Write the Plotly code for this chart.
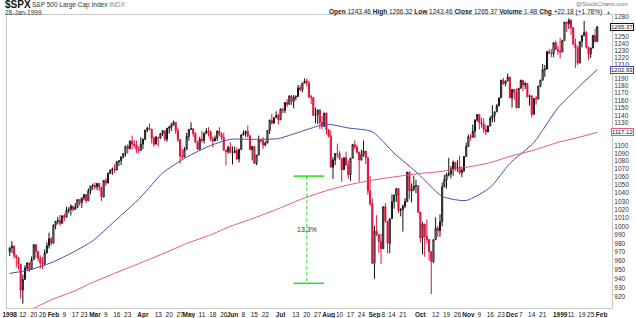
import math
import pandas as pd
import plotly.graph_objects as go

# ---------------- data ----------------
holidays = ["1998-01-01", "1998-01-19", "1998-02-16", "1998-04-10", "1998-05-25", "1998-07-03",
            "1998-09-07", "1998-11-26", "1998-12-25", "1999-01-01", "1999-01-18"]
trade_days = [d.strftime("%Y-%m-%d") for d in pd.bdate_range("1998-01-02", "1999-01-28")
              if d.strftime("%Y-%m-%d") not in holidays]

prev_close_1997 = 970.43

closes = [
    975.04, 977.07, 966.58, 964.00, 956.05, 927.69, 939.21, 952.12, 957.94, 950.73, 961.51, 978.60, 970.81, 963.04, 957.59, 956.95, 969.02, 977.46, 985.49, 980.28,
    1001.27, 1006.00, 1006.90, 1003.54, 1012.46, 1010.74, 1019.01, 1020.01, 1024.14, 1020.09, 1022.76, 1032.08, 1028.28, 1034.21, 1038.14, 1030.56, 1042.90, 1048.67, 1049.34,
    1047.70, 1052.02, 1047.33, 1035.05, 1055.69, 1052.31, 1064.25, 1068.47, 1069.92, 1068.61, 1079.27, 1080.45, 1085.52, 1089.74, 1099.16, 1095.55, 1105.65, 1101.93, 1100.80, 1095.44, 1093.60, 1101.75,
    1108.15, 1120.01, 1122.70, 1121.38, 1109.55, 1101.65, 1110.67, 1109.69, 1115.75, 1119.32, 1108.17, 1122.72, 1123.65, 1126.67, 1130.54, 1119.58, 1107.90, 1086.54, 1085.11, 1094.63, 1111.75,
    1121.00, 1122.07, 1115.50, 1104.92, 1095.14, 1108.14, 1106.64, 1115.79, 1118.86, 1117.37, 1108.73, 1105.82, 1109.52, 1119.06, 1114.64, 1110.47, 1094.02, 1092.23, 1097.60, 1090.82,
    1090.98, 1093.22, 1082.73, 1094.83, 1113.86, 1115.72, 1118.41, 1112.28, 1094.58, 1098.84, 1077.01, 1087.59, 1107.11, 1106.37, 1100.65, 1103.21, 1119.49, 1132.88, 1129.28, 1136.76, 1139.81, 1133.84,
    1148.56, 1146.42, 1157.33, 1154.66, 1166.38, 1158.56, 1164.33, 1165.19, 1177.58, 1174.81, 1183.99, 1186.75, 1184.10, 1165.07, 1164.08, 1139.75, 1140.80, 1147.27, 1130.24, 1125.21, 1142.95, 1120.67,
    1112.44, 1072.12, 1081.43, 1089.63, 1089.45, 1083.14, 1068.98, 1084.22, 1074.91, 1062.75, 1083.67, 1101.20, 1098.06, 1091.60, 1081.24, 1088.14, 1092.85, 1084.19, 1042.59, 1027.14, 957.28,
    994.26, 990.47, 982.26, 973.89, 1023.46, 1006.20, 980.19, 1009.06, 1029.72, 1037.68, 1045.48, 1018.87, 1020.09, 1023.89, 1029.63, 1066.09, 1042.72, 1044.75, 1048.69, 1049.02, 1017.01,
    986.39, 1002.60, 988.56, 984.59, 970.68, 959.44, 984.39, 997.71, 994.80, 1005.53, 1047.49, 1056.42, 1062.39, 1063.93, 1069.92, 1078.48, 1070.67, 1072.32, 1065.34, 1068.09, 1085.93, 1098.67,
    1111.60, 1110.84, 1118.67, 1133.85, 1141.01, 1130.20, 1128.26, 1120.97, 1117.69, 1125.72, 1135.87, 1139.32, 1144.48, 1152.61, 1163.55, 1188.21, 1182.99, 1186.87, 1192.33, 1163.63,
    1175.28, 1171.25, 1150.14, 1176.74, 1187.70, 1181.38, 1183.49, 1165.02, 1166.46, 1141.20, 1162.83, 1161.94, 1179.98, 1188.03, 1202.84, 1203.57, 1228.54, 1226.27, 1225.49, 1241.81, 1231.93, 1229.23,
    1228.10, 1244.78, 1272.34, 1269.73, 1275.09, 1263.88, 1239.51, 1234.40, 1212.19, 1243.26, 1252.00, 1256.62, 1235.16, 1225.19, 1233.98, 1252.31, 1243.17, 1265.37,
]

opens = [
    970.4, 975.0, 977.1, 966.6, 964.0, 956.1, 927.7, 939.2, 952.1, 957.9, 950.7, 961.5, 978.6, 970.8, 963.0, 957.6, 957.0, 969.0, 977.5, 985.5,
    980.3, 1001.3, 1006.0, 1006.9, 1003.5, 1012.5, 1010.7, 1019.0, 1020.0, 1024.1, 1020.1, 1022.8, 1032.1, 1028.3, 1034.2, 1038.1, 1030.6, 1042.9, 1048.7,
    1049.3, 1047.7, 1052.0, 1047.3, 1035.1, 1055.7, 1052.3, 1064.3, 1068.5, 1069.9, 1068.6, 1079.3, 1080.5, 1085.5, 1089.7, 1099.2, 1095.6, 1105.7, 1101.9, 1100.8, 1095.4, 1093.6,
    1101.8, 1108.2, 1120.0, 1122.7, 1121.4, 1109.6, 1101.7, 1110.7, 1109.7, 1115.8, 1119.3, 1108.2, 1122.7, 1123.7, 1126.7, 1130.5, 1119.6, 1107.9, 1086.5, 1085.1, 1094.6,
    1111.8, 1121.0, 1122.1, 1115.5, 1104.9, 1095.1, 1108.1, 1106.6, 1115.8, 1118.9, 1117.4, 1108.7, 1105.8, 1109.5, 1119.1, 1114.6, 1110.5, 1094.0, 1092.2, 1097.6,
    1090.8, 1091.0, 1093.2, 1082.7, 1094.8, 1113.9, 1115.7, 1118.4, 1112.3, 1094.6, 1098.8, 1077.0, 1087.6, 1107.1, 1106.4, 1100.7, 1103.2, 1119.5, 1132.9, 1129.3, 1136.8, 1139.8,
    1133.8, 1148.6, 1146.4, 1157.3, 1154.7, 1166.4, 1158.6, 1164.3, 1165.2, 1177.6, 1174.8, 1184.0, 1186.8, 1184.1, 1165.1, 1164.1, 1139.8, 1140.8, 1147.3, 1130.2, 1125.2, 1143.0,
    1120.7, 1112.4, 1072.1, 1081.4, 1089.6, 1089.5, 1083.1, 1069.0, 1084.2, 1074.9, 1062.8, 1083.7, 1101.2, 1098.1, 1091.6, 1081.2, 1088.1, 1092.9, 1084.2, 1042.6, 1027.1,
    957.3, 994.3, 990.5, 982.3, 973.9, 1023.5, 1006.2, 980.2, 1009.1, 1029.7, 1037.7, 1045.5, 1018.9, 1020.1, 1023.9, 1029.6, 1066.1, 1042.7, 1044.8, 1048.7, 1049.0,
    1017.0, 986.4, 1002.6, 988.6, 984.6, 970.7, 959.4, 984.4, 997.7, 994.8, 1005.5, 1047.5, 1056.4, 1062.4, 1063.9, 1069.9, 1078.5, 1070.7, 1072.3, 1065.3, 1068.1, 1085.9,
    1098.7, 1111.6, 1110.8, 1118.7, 1133.9, 1141.0, 1130.2, 1128.3, 1121.0, 1117.7, 1125.7, 1135.9, 1139.3, 1144.5, 1152.6, 1163.6, 1188.2, 1183.0, 1186.9, 1192.3,
    1163.6, 1175.3, 1171.3, 1150.1, 1176.7, 1187.7, 1181.4, 1183.5, 1165.0, 1166.5, 1141.2, 1162.8, 1161.9, 1180.0, 1188.0, 1202.8, 1203.6, 1228.5, 1226.3, 1225.5, 1241.8, 1231.9,
    1229.2, 1228.1, 1244.8, 1272.3, 1269.7, 1275.1, 1263.9, 1239.5, 1234.4, 1212.2, 1243.3, 1252.0, 1256.6, 1235.2, 1225.2, 1234.0, 1252.3, 1243.5,
]

highs = [
    975.0, 982.6, 977.1, 966.6, 964.0, 956.1, 944.6, 955.0, 958.0, 957.9, 965.1, 978.6, 978.6, 970.8, 966.4, 964.4, 973.0, 981.4, 992.6, 987.4,
    1002.5, 1006.1, 1011.0, 1013.5, 1013.1, 1015.3, 1023.4, 1022.8, 1026.3, 1024.1, 1028.0, 1032.1, 1032.6, 1034.3, 1038.7, 1038.7, 1045.8, 1048.7, 1051.7,
    1053.0, 1052.0, 1052.0, 1047.3, 1055.7, 1058.5, 1065.6, 1069.2, 1071.9, 1075.9, 1079.5, 1080.5, 1085.5, 1089.7, 1099.2, 1101.2, 1106.7, 1113.0, 1107.2, 1106.4, 1099.1, 1110.8,
    1109.2, 1121.0, 1124.8, 1128.9, 1121.4, 1111.9, 1112.6, 1110.7, 1115.8, 1119.9, 1119.3, 1122.8, 1126.1, 1129.7, 1132.9, 1130.5, 1123.4, 1107.9, 1095.9, 1098.0, 1116.6,
    1121.0, 1130.5, 1122.1, 1117.4, 1106.1, 1111.4, 1119.1, 1117.0, 1122.8, 1124.0, 1119.7, 1111.7, 1113.1, 1119.1, 1124.1, 1116.9, 1116.8, 1094.0, 1099.7, 1104.2,
    1098.7, 1098.7, 1097.4, 1095.9, 1113.9, 1119.7, 1119.9, 1126.3, 1114.2, 1098.8, 1098.8, 1087.6, 1112.9, 1108.4, 1111.0, 1105.5, 1119.9, 1134.4, 1142.0, 1136.8, 1145.2, 1142.0,
    1148.6, 1148.6, 1157.3, 1161.8, 1166.4, 1166.4, 1167.5, 1166.9, 1181.3, 1181.1, 1184.0, 1190.6, 1190.6, 1187.4, 1167.7, 1164.1, 1150.1, 1147.3, 1147.3, 1138.6, 1143.1, 1143.0,
    1121.0, 1119.7, 1084.8, 1090.0, 1102.5, 1092.8, 1083.1, 1085.0, 1092.1, 1080.9, 1083.7, 1101.7, 1106.6, 1100.9, 1091.6, 1094.9, 1106.6, 1092.9, 1084.2, 1061.0, 1033.5,
    1000.7, 1013.2, 990.5, 991.4, 1023.5, 1027.7, 1006.2, 1009.1, 1038.4, 1037.9, 1046.1, 1045.5, 1022.0, 1026.0, 1033.9, 1066.1, 1066.1, 1051.9, 1061.5, 1056.3, 1049.0,
    1017.0, 1005.5, 1002.6, 1008.1, 985.0, 970.7, 984.4, 1010.7, 1000.8, 1014.4, 1053.1, 1062.7, 1065.2, 1084.1, 1073.6, 1080.6, 1078.5, 1081.2, 1087.1, 1072.8, 1086.4, 1103.8,
    1114.4, 1114.7, 1127.6, 1133.9, 1141.3, 1141.0, 1136.6, 1135.9, 1126.9, 1126.0, 1138.7, 1153.4, 1144.5, 1155.1, 1163.6, 1188.2, 1191.4, 1187.2, 1197.4, 1192.7,
    1175.9, 1175.3, 1176.7, 1177.0, 1188.9, 1188.6, 1185.5, 1183.5, 1167.9, 1166.5, 1162.8, 1166.3, 1180.0, 1188.9, 1210.9, 1209.6, 1229.9, 1232.3, 1232.0, 1241.9, 1244.9, 1237.2,
    1248.8, 1246.1, 1272.5, 1272.3, 1278.2, 1276.2, 1264.5, 1247.8, 1236.8, 1243.3, 1253.3, 1274.1, 1258.8, 1236.4, 1233.9, 1253.3, 1262.8, 1266.3,
]

lows = [
    965.7, 969.0, 962.7, 952.7, 950.0, 918.4, 912.8, 939.2, 948.5, 947.6, 950.7, 961.5, 963.3, 959.5, 951.6, 950.7, 955.0, 969.0, 974.2, 977.9,
    980.3, 996.6, 1002.5, 1000.3, 1003.5, 1006.2, 1010.7, 1015.3, 1012.8, 1017.7, 1020.1, 1021.7, 1025.0, 1021.9, 1031.0, 1027.7, 1030.6, 1038.4, 1044.0,
    1044.7, 1043.4, 1042.7, 1030.2, 1035.1, 1048.8, 1052.3, 1064.3, 1062.6, 1064.8, 1068.6, 1073.6, 1075.0, 1083.4, 1085.8, 1089.6, 1095.6, 1094.7, 1097.1, 1090.0, 1090.0, 1093.6,
    1095.3, 1106.8, 1117.4, 1120.0, 1102.5, 1098.3, 1101.7, 1098.7, 1108.9, 1112.2, 1105.3, 1104.9, 1115.6, 1118.9, 1126.7, 1115.1, 1104.5, 1076.7, 1081.6, 1085.1, 1094.6,
    1106.3, 1121.0, 1111.2, 1103.0, 1094.0, 1095.1, 1103.7, 1102.6, 1114.9, 1111.9, 1105.7, 1097.3, 1105.8, 1106.0, 1111.9, 1107.3, 1094.0, 1074.4, 1089.1, 1090.8,
    1075.7, 1089.7, 1081.1, 1078.1, 1094.8, 1113.3, 1111.3, 1110.3, 1094.3, 1080.8, 1077.0, 1074.7, 1087.6, 1103.8, 1095.7, 1098.9, 1103.2, 1115.1, 1127.6, 1129.3, 1136.8, 1127.6,
    1133.8, 1142.9, 1143.0, 1151.1, 1154.7, 1153.7, 1149.3, 1160.2, 1165.2, 1173.0, 1171.3, 1184.0, 1179.4, 1163.1, 1155.2, 1139.1, 1129.1, 1128.2, 1121.6, 1121.9, 1125.2, 1114.3,
    1110.2, 1071.8, 1057.4, 1074.9, 1084.7, 1081.6, 1054.0, 1069.0, 1074.0, 1057.8, 1055.1, 1083.7, 1095.4, 1089.1, 1054.0, 1081.2, 1085.5, 1076.1, 1037.6, 1024.5, 957.3,
    940.0, 988.4, 969.3, 956.5, 973.9, 1004.6, 968.6, 968.6, 1009.1, 1021.0, 1029.3, 1016.1, 1011.9, 993.8, 1021.9, 1029.6, 1033.0, 1028.5, 1042.2, 1039.9, 1015.7,
    981.3, 967.4, 964.7, 980.0, 960.5, 923.3, 957.5, 984.4, 987.6, 987.8, 1000.1, 1047.5, 1045.5, 1060.6, 1058.1, 1061.5, 1067.4, 1066.5, 1063.2, 1059.7, 1066.0, 1085.9,
    1098.7, 1106.3, 1110.8, 1109.6, 1131.2, 1121.1, 1123.6, 1116.4, 1113.4, 1117.7, 1125.7, 1130.6, 1131.0, 1144.4, 1152.6, 1163.6, 1181.8, 1179.4, 1186.9, 1163.2,
    1150.3, 1160.8, 1149.6, 1150.1, 1176.7, 1172.6, 1175.9, 1164.6, 1153.2, 1136.9, 1141.2, 1154.7, 1161.9, 1178.3, 1188.0, 1192.7, 1203.6, 1225.8, 1221.0, 1220.8, 1231.2, 1224.0,
    1219.1, 1228.1, 1244.8, 1257.7, 1261.8, 1253.3, 1238.3, 1205.5, 1209.5, 1212.2, 1234.9, 1251.5, 1233.1, 1217.0, 1219.5, 1233.9, 1242.8, 1243.5,
]

ma_dates = ["1998-01-02", "1998-01-15", "1998-01-30", "1998-02-13", "1998-02-27", "1998-03-13", "1998-03-31",
            "1998-04-15", "1998-04-30", "1998-05-15", "1998-05-29", "1998-06-15", "1998-06-30", "1998-07-15",
            "1998-07-31", "1998-08-14", "1998-08-31", "1998-09-15", "1998-09-30", "1998-10-15", "1998-10-30",
            "1998-11-16", "1998-11-30", "1998-12-15", "1998-12-31", "1999-01-15", "1999-01-28"]
ma50 = [946, 950, 958, 970, 983, 1006, 1035, 1065, 1085, 1100, 1108, 1108, 1109, 1118, 1128, 1123, 1118,
        1090, 1064, 1036, 1031, 1047, 1077, 1104, 1150, 1180, 1202.93]
ma200 = [900, 906, 917, 926, 936, 946, 958, 968, 980, 990, 1000, 1010, 1021, 1032, 1043, 1050, 1056,
         1060, 1064, 1067, 1072, 1078, 1086, 1094, 1104, 1111, 1117.12]

# measured drop annotation
measure_dates = ["1998-07-10", "1998-07-20", "1998-07-30"]
measure_hi = 1061
measure_lo = 935
measure_text = "13.3%"

tick_dates = ["1998-01-02", "1998-01-12", "1998-01-20", "1998-01-26", "1998-02-02", "1998-02-09", "1998-02-17", "1998-02-23",
              "1998-03-02", "1998-03-09", "1998-03-16", "1998-03-23", "1998-04-01", "1998-04-13", "1998-04-20", "1998-04-27",
              "1998-05-01", "1998-05-11", "1998-05-18", "1998-05-26", "1998-06-01", "1998-06-08", "1998-06-15", "1998-06-22",
              "1998-07-01", "1998-07-13", "1998-07-20", "1998-07-27", "1998-08-03", "1998-08-10", "1998-08-17", "1998-08-24",
              "1998-09-01", "1998-09-08", "1998-09-14", "1998-09-21", "1998-10-01", "1998-10-12", "1998-10-19", "1998-10-26",
              "1998-11-02", "1998-11-09", "1998-11-16", "1998-11-23", "1998-12-01", "1998-12-07", "1998-12-14", "1998-12-21",
              "1999-01-04", "1999-01-11", "1999-01-19", "1999-01-25", "1999-02-01"]
tick_text = ["<b>1998</b>", "12", "20", "26", "<b>Feb</b>", "9", "17", "23",
             "<b>Mar</b>", "9", "16", "23", "<b>Apr</b>", "13", "20", "27",
             "<b>May</b>", "11", "18", "26", "<b>Jun</b>", "8", "15", "22",
             "<b>Jul</b>", "13", "20", "27", "<b>Aug</b>", "10", "17", "24",
             "<b>Sep</b>", "8", "14", "21", "<b>Oct</b>", "12", "19", "26",
             "<b>Nov</b>", "9", "16", "23", "<b>Dec</b>", "7", "14", "21",
             "<b>1999</b>", "11", "19", "25", "<b>Feb</b>"]
price_ticks = list(range(920, 1290, 10))
hidden_ticks = [1270, 1260, 1200, 1120, 1110]   # covered by the value tags

# ---------------- styling ----------------
RED = "#e0103c"
BLUE = "#4a4ab4"
PINK = "#e8587a"
GREEN = "#22dd22"
FONT = "Liberation Sans"

def noon(d):
    return d + " 12:00"

xs = [noon(d) for d in trade_days]
prev = [prev_close_1997] + closes[:-1]
blk = [i for i in range(len(closes)) if closes[i] >= prev[i]]
red = [i for i in range(len(closes)) if closes[i] < prev[i]]

def pick(arr, idx):
    return [arr[i] for i in idx]

fig = go.Figure()
fig.add_trace(go.Candlestick(
    x=pick(xs, blk), open=pick(opens, blk), high=pick(highs, blk), low=pick(lows, blk), close=pick(closes, blk),
    increasing=dict(line=dict(color="#111111", width=1), fillcolor="white"),
    decreasing=dict(line=dict(color="#111111", width=1), fillcolor="#111111"),
    whiskerwidth=0, hoverinfo="skip"))
fig.add_trace(go.Candlestick(
    x=pick(xs, red), open=pick(opens, red), high=pick(highs, red), low=pick(lows, red), close=pick(closes, red),
    increasing=dict(line=dict(color=RED, width=1), fillcolor="white"),
    decreasing=dict(line=dict(color=RED, width=1), fillcolor=RED),
    whiskerwidth=0, hoverinfo="skip"))

fig.add_trace(go.Scatter(x=[noon(d) for d in ma_dates], y=ma50, mode="lines",
                         line=dict(color=BLUE, width=1, shape="spline", smoothing=0.6), hoverinfo="skip"))
fig.add_trace(go.Scatter(x=[noon(d) for d in ma_dates], y=ma200, mode="lines",
                         line=dict(color=PINK, width=1, shape="spline", smoothing=0.6), hoverinfo="skip"))

md = [noon(d) for d in measure_dates]
fig.add_trace(go.Scatter(x=[md[0], md[2]], y=[measure_hi, measure_hi], mode="lines",
                         line=dict(color=GREEN, width=1.5), hoverinfo="skip"))
fig.add_trace(go.Scatter(x=[md[0], md[2]], y=[measure_lo, measure_lo], mode="lines",
                         line=dict(color=GREEN, width=1.5), hoverinfo="skip"))
fig.add_trace(go.Scatter(x=[md[1], md[1]], y=[measure_hi, measure_lo], mode="lines",
                         line=dict(color=GREEN, width=1, dash="dot"), hoverinfo="skip"))

L, R, T, B = 7, 24, 15, 10
W, H = 636, 318
pw, ph = W - L - R, H - T - B

def px(x):
    return (x - L) / pw

def py(y):
    return (H - B - y) / ph

ann = []
ann.append(dict(x=md[1], y=math.log10(math.sqrt(measure_hi * measure_lo)), xref="x", yref="y", showarrow=False,
                text=measure_text, font=dict(family=FONT, size=7, color="#333333")))
ann.append(dict(x=px(3), y=py(5), xref="paper", yref="paper", xanchor="left", yanchor="middle", showarrow=False,
                text="<b>$SPX</b>", font=dict(family=FONT, size=10, color="#111")))
ann.append(dict(x=px(30), y=py(5), xref="paper", yref="paper", xanchor="left", yanchor="middle", showarrow=False,
                text="S&P 500 Large Cap Index <span style='color:#888'>INDX</span>", font=dict(family=FONT, size=6.5, color="#333")))
ann.append(dict(x=px(3), y=py(12.5), xref="paper", yref="paper", xanchor="left", yanchor="middle", showarrow=False,
                text="28-Jan-1999", font=dict(family=FONT, size=6.5, color="#333")))
ann.append(dict(x=px(630), y=py(4), xref="paper", yref="paper", xanchor="right", yanchor="middle", showarrow=False,
                text="@StockCharts.com", font=dict(family=FONT, size=6, color="#777")))
ann.append(dict(x=px(604), y=py(12), xref="paper", yref="paper", xanchor="right", yanchor="middle", showarrow=False,
                text="<b>Open</b> 1243.46 <b>High</b> 1266.32 <b>Low</b> 1243.46 <b>Close</b> 1265.37 "
                     "<b>Volume</b> 1.4B <b>Chg</b> +22.18 (+1.78%)",
                font=dict(family=FONT, size=6.5, color="#222")))
ann.append(dict(x=px(608), y=py(12), xref="paper", yref="paper", xanchor="center", yanchor="middle", showarrow=False,
                text="▲", font=dict(family=FONT, size=5, color="#11aa11")))

for val, col in [(closes[-1], "#111111"), (ma50[-1], BLUE), (ma200[-1], PINK)]:
    ann.append(dict(x=px(634), y=math.log10(val), xref="paper", yref="y", xanchor="right", yanchor="middle",
                    showarrow=False, text=f"{val:.2f}", bgcolor="white", bordercolor=col, borderwidth=1, borderpad=0,
                    font=dict(family=FONT, size=6, color="#111")))

fig.update_layout(
    width=W, height=H, margin=dict(l=L, r=R, t=T, b=B, autoexpand=False),
    paper_bgcolor="white", plot_bgcolor="white", showlegend=False,
    annotations=ann,
    xaxis=dict(type="date", rangeslider=dict(visible=False), automargin=False,
               rangebreaks=[dict(bounds=["sat", "mon"]), dict(values=holidays)],
               range=["1997-12-31 06:00", "1999-02-08 06:00"],
               tickvals=[noon(d) for d in tick_dates], ticktext=tick_text, tickangle=0,
               tickfont=dict(family=FONT, size=6.5, color="#222"), ticks="", showgrid=False,
               showline=True, linecolor="#c8c8c8", linewidth=1, mirror=True, zeroline=False),
    yaxis=dict(type="log", side="right", range=[math.log10(908.2), math.log10(1283)], automargin=False,
               tickvals=price_ticks, ticktext=["" if v in hidden_ticks else str(v) for v in price_ticks],
               tickfont=dict(family=FONT, size=6.5, color="#333"), ticks="", showgrid=False,
               showline=True, linecolor="#c8c8c8", linewidth=1, mirror=True, zeroline=False),
)

fig.write_html("out.html")
